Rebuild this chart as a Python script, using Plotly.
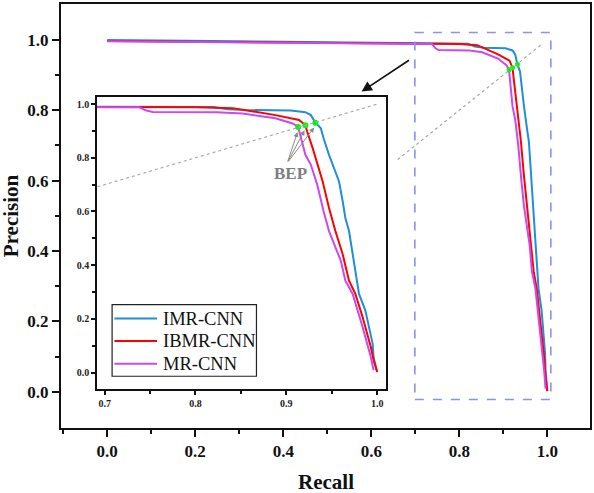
import plotly.graph_objects as go

# ---------------- data ----------------
series_names = ["IMR-CNN", "IBMR-CNN", "MR-CNN"]

recall_imr = [0.000, 0.100, 0.200, 0.300, 0.400, 0.500, 0.600, 0.700, 0.760, 0.820, 0.835, 0.856,
              0.905, 0.914, 0.921, 0.927, 0.932, 0.938, 0.941, 0.947, 0.955, 0.958, 0.962, 0.965,
              0.969, 0.974, 0.977, 0.980, 0.987, 0.995, 0.996, 1.000]
precision_imr = [1.000, 0.998, 0.997, 0.996, 0.995, 0.994, 0.992, 0.990, 0.990, 0.989, 0.981, 0.978,
                 0.976, 0.972, 0.970, 0.959, 0.931, 0.910, 0.873, 0.811, 0.737, 0.712, 0.638, 0.576,
                 0.527, 0.416, 0.342, 0.293, 0.231, 0.107, 0.058, 0.002]

recall_ibmr = [0.000, 0.200, 0.400, 0.600, 0.700, 0.760, 0.800, 0.841, 0.867, 0.888, 0.914, 0.921,
               0.923, 0.929, 0.940, 0.947, 0.954, 0.962, 0.969, 0.976, 0.984, 0.993, 0.996, 1.000]
precision_ibmr = [0.997, 0.995, 0.993, 0.991, 0.990, 0.988, 0.988, 0.985, 0.971, 0.959, 0.941, 0.921,
                  0.897, 0.836, 0.712, 0.613, 0.527, 0.441, 0.342, 0.293, 0.206, 0.095, 0.046, 0.002]

recall_mr = [0.000, 0.200, 0.400, 0.600, 0.700, 0.738, 0.746, 0.753, 0.823, 0.852, 0.888, 0.907,
             0.913, 0.916, 0.921, 0.927, 0.934, 0.941, 0.947, 0.960, 0.965, 0.973, 0.984, 0.993, 0.996]
precision_mr = [0.996, 0.994, 0.992, 0.991, 0.990, 0.988, 0.976, 0.971, 0.970, 0.965, 0.947, 0.928,
                0.915, 0.873, 0.811, 0.774, 0.700, 0.601, 0.527, 0.416, 0.342, 0.293, 0.169, 0.058, 0.009]

bep_recall = [0.932, 0.921, 0.913]
bep_precision = [0.931, 0.921, 0.915]

main_x_ticks = [0.0, 0.2, 0.4, 0.6, 0.8, 1.0]
main_y_ticks = [0.0, 0.2, 0.4, 0.6, 0.8, 1.0]
inset_x_ticks = [0.7, 0.8, 0.9, 1.0]
inset_y_ticks = [0.0, 0.2, 0.4, 0.6, 0.8, 1.0]

# ---------------- style ----------------
colors = ["#1E8FD8", "#FF0000", "#CC48F0"]
W, H = 594, 493
L, R, T, B = 61, 2, 2, 65
PW, PH = W - L - R, H - T - B
SERIF = "Liberation Serif"


def px(X):
    return (X - L) / PW


def py(Y):
    return (H - B - Y) / PH


series = [(recall_imr, precision_imr), (recall_ibmr, precision_ibmr), (recall_mr, precision_mr)]

fig = go.Figure()

# main curves
for (rx, ry), c, n in zip(series, colors, series_names):
    fig.add_trace(go.Scatter(x=rx, y=ry, mode="lines", line=dict(color=c, width=2),
                             name=n, showlegend=False, xaxis="x", yaxis="y"))
fig.add_trace(go.Scatter(x=bep_recall, y=bep_precision, mode="markers",
                         marker=dict(color="#11EE11", size=5), showlegend=False,
                         xaxis="x", yaxis="y"))

# inset curves
for (rx, ry), c, n in zip(series, colors, series_names):
    fig.add_trace(go.Scatter(x=rx, y=ry, mode="lines", line=dict(color=c, width=2),
                             name=n, showlegend=False, xaxis="x2", yaxis="y2"))
fig.add_trace(go.Scatter(x=bep_recall, y=bep_precision, mode="markers",
                         marker=dict(color="#11EE11", size=6), showlegend=False,
                         xaxis="x2", yaxis="y2"))

tickfont_main = dict(family=SERIF, size=17, color="#111", weight="bold")
tickfont_inset = dict(family=SERIF, size=10, color="#222", weight="bold")

fig.update_layout(
    width=W, height=H,
    margin=dict(l=L, r=R, t=T, b=B),
    paper_bgcolor="white", plot_bgcolor="white",
    showlegend=False,
    xaxis=dict(domain=[0, 1], range=[-0.105, 1.097], anchor="y",
               tickmode="array", tickvals=main_x_ticks, ticktext=[f"{v:.1f}" for v in main_x_ticks],
               ticks="outside", ticklen=7, tickwidth=2, tickcolor="#111",
               minor=dict(tickmode="array", tickvals=[-0.1, 0.1, 0.3, 0.5, 0.7, 0.9],
                          ticks="outside", ticklen=4, tickwidth=2, tickcolor="#111"),
               showline=True, linewidth=2, linecolor="#111", mirror=True,
               showgrid=False, zeroline=False, tickfont=tickfont_main),
    yaxis=dict(domain=[0, 1], range=[-0.103, 1.102], anchor="x",
               tickmode="array", tickvals=main_y_ticks, ticktext=[f"{v:.1f}" for v in main_y_ticks],
               ticks="outside", ticklen=7, tickwidth=2, tickcolor="#111",
               minor=dict(tickmode="array", tickvals=[0.1, 0.3, 0.5, 0.7, 0.9],
                          ticks="outside", ticklen=4, tickwidth=2, tickcolor="#111"),
               showline=True, linewidth=2, linecolor="#111", mirror=True,
               showgrid=False, zeroline=False, tickfont=tickfont_main),
    xaxis2=dict(domain=[px(97.5), px(387.5)], range=[0.692, 1.010], anchor="y2",
                tickmode="array", tickvals=inset_x_ticks, ticktext=[f"{v:.1f}" for v in inset_x_ticks],
                ticks="outside", ticklen=4, tickwidth=1.5, tickcolor="#111",
                minor=dict(tickmode="array", tickvals=[0.75, 0.85, 0.95],
                           ticks="outside", ticklen=3, tickwidth=1.5, tickcolor="#111"),
                showline=True, linewidth=2, linecolor="#111", mirror=True,
                showgrid=False, zeroline=False, tickfont=tickfont_inset),
    yaxis2=dict(domain=[py(389), py(95.3)], range=[-0.062, 1.027], anchor="x2",
                tickmode="array", tickvals=inset_y_ticks, ticktext=[f"{v:.1f}" for v in inset_y_ticks],
                ticks="outside", ticklen=4, tickwidth=1.5, tickcolor="#111",
                minor=dict(tickmode="array", tickvals=[0.1, 0.3, 0.5, 0.7, 0.9],
                           ticks="outside", ticklen=3, tickwidth=1.5, tickcolor="#111"),
                showline=True, linewidth=2, linecolor="#111", mirror=True,
                showgrid=False, zeroline=False, tickfont=tickfont_inset),
)

shapes = []
# dashed zoom rectangle
shapes.append(dict(type="rect", xref="x", yref="y", x0=0.699, x1=1.008, y0=-0.022, y1=1.021,
                   line=dict(color="#8C90F2", width=1.6, dash="dash"), fillcolor="rgba(0,0,0,0)"))
# diagonals (y = x)
shapes.append(dict(type="line", xref="x", yref="y", x0=0.66, y0=0.66, x1=0.99, y1=0.99,
                   line=dict(color="#A8A8A8", width=1.2, dash="dot")))
shapes.append(dict(type="line", xref="x2", yref="y2", x0=0.692, y0=0.692, x1=1.0, y1=1.0,
                   line=dict(color="#ABABAB", width=1.2, dash="dot")))
# manual legend in the inset
shapes.append(dict(type="rect", xref="paper", yref="paper", x0=px(112.3), x1=px(257.2),
                   y0=py(376), y1=py(304), line=dict(color="#222", width=1.2), fillcolor="white"))
legend_rows = [318, 340.5, 363.5]
for c, yrow in zip(colors, legend_rows):
    shapes.append(dict(type="line", xref="paper", yref="paper", x0=px(114.6), x1=px(157.4),
                       y0=py(yrow), y1=py(yrow), line=dict(color=c, width=2)))
fig.update_layout(shapes=shapes)

ann = []
for n, yrow in zip(series_names, legend_rows):
    ann.append(dict(xref="paper", yref="paper", x=px(161), y=py(yrow), text=n, showarrow=False,
                    xanchor="left", yanchor="middle",
                    font=dict(family=SERIF, size=18.5, color="#111")))
# axis titles
ann.append(dict(xref="paper", yref="paper", x=px(327), y=py(482), text="Recall", showarrow=False,
                xanchor="center", yanchor="middle",
                font=dict(family=SERIF, size=21, color="#111", weight="bold")))
ann.append(dict(xref="paper", yref="paper", x=px(11), y=py(215), text="Precision", showarrow=False,
                textangle=-90, xanchor="center", yanchor="middle",
                font=dict(family=SERIF, size=21, color="#111", weight="bold")))
# black pointing arrow
ann.append(dict(xref="x", yref="y", axref="x", ayref="y", x=0.578, y=0.853, ax=0.689, ay=0.945,
                text="", showarrow=True, arrowhead=2, arrowsize=1.3, arrowwidth=1.6,
                arrowcolor="#111"))
# BEP label and arrows
ann.append(dict(xref="x2", yref="y2", x=0.905, y=0.743, text="BEP", showarrow=False,
                font=dict(family=SERIF, size=17, color="#7F7F7F", weight="bold")))
for bx, by in zip(bep_recall, bep_precision):
    ann.append(dict(xref="x2", yref="y2", axref="x2", ayref="y2", x=bx, y=by - 0.012,
                    ax=0.901, ay=0.781, text="", showarrow=True, arrowhead=2, arrowsize=1,
                    arrowwidth=1, arrowcolor="#8A8A8A", standoff=2))
fig.update_layout(annotations=ann)

fig.write_html("out.html", config={"displayModeBar": False},
               post_script="document.body.style.margin='0';document.body.style.overflow='hidden';")
